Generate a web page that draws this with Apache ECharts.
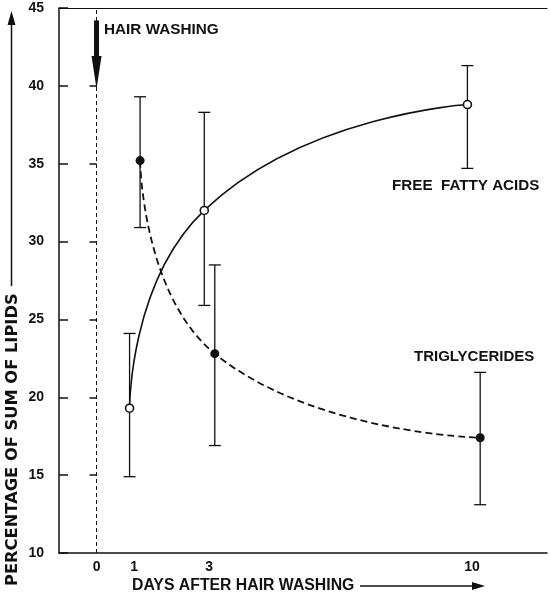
<!DOCTYPE html>
<html>
<head>
<meta charset="utf-8">
<script src="https://cdn.jsdelivr.net/npm/echarts@6/dist/echarts.min.js"></script>
<style>
html,body{margin:0;padding:0;background:#fff;}
#chart{width:550px;height:599px;}
</style>
</head>
<body>
<div id="chart"></div>
<script>
// ---- data ----
const xTickLabels = [0, 1, 3, 10];
const ffaDays = [0.88, 2.87, 9.88];
const ffaMean = [19.3, 32.0, 38.8];
const ffaLow  = [14.9, 25.9, 34.7];
const ffaHigh = [24.1, 38.3, 41.3];
const tgDays = [1.16, 3.15, 10.22];
const tgMean = [35.2, 22.8, 17.4];
const tgLow  = [30.9, 16.9, 13.1];
const tgHigh = [39.3, 28.5, 21.6];
const washDay = 0;
const washArrow = [44.2, 39.8];
const rightTicks = [15, 20, 25, 30, 35, 40];

const FONT = 'Liberation Sans';
const ink = '#111';

const ffaData = ffaDays.map((d, i) => [d, ffaMean[i]]);
const tgData = tgDays.map((d, i) => [d, tgMean[i]]);
const errData = ffaDays.map((d, i) => [d, ffaLow[i], ffaHigh[i]])
  .concat(tgDays.map((d, i) => [d, tgLow[i], tgHigh[i]]));

const chart = echarts.init(document.getElementById('chart'), null, {renderer: 'canvas'});

function errRender(params, api) {
  const x = api.value(0), lo = api.value(1), hi = api.value(2);
  const t = api.coord([x, hi]), b = api.coord([x, lo]);
  const hw = 6;
  const st = {stroke: ink, lineWidth: 1.3};
  return {type: 'group', children: [
    {type: 'line', shape: {x1: t[0], y1: t[1], x2: b[0], y2: b[1]}, style: st},
    {type: 'line', shape: {x1: t[0] - hw, y1: t[1], x2: t[0] + hw, y2: t[1]}, style: st},
    {type: 'line', shape: {x1: b[0] - hw, y1: b[1], x2: b[0] + hw, y2: b[1]}, style: st}
  ]};
}

function washRender(params, api) {
  const x = api.value(0);
  const p0 = api.coord([x, api.value(1)]);
  const p1 = api.coord([x, api.value(2)]);
  const headLen = 33;
  const mid = p1[1] - headLen;
  return {type: 'group', children: [
    {type: 'rect', shape: {x: p0[0] - 2.5, y: p0[1], width: 5, height: mid - p0[1] + 1}, style: {fill: ink}},
    {type: 'polygon', shape: {points: [[p1[0] - 5, mid], [p1[0] + 5, mid], [p1[0], p1[1]]]}, style: {fill: ink}}
  ]};
}

const option = {
  backgroundColor: '#fff',
  animation: false,
  grid: {left: 59, right: 0, top: 8, bottom: 46, containLabel: false},
  xAxis: [{
    type: 'value', min: -1, max: 12, interval: 1, position: 'bottom',
    axisLine: {show: true, onZero: false, lineStyle: {color: ink, width: 1.5}},
    axisTick: {show: false},
    splitLine: {show: false},
    axisLabel: {
      margin: 7, color: ink, fontFamily: FONT, fontWeight: 'bold', fontSize: 14,
      formatter: v => xTickLabels.indexOf(v) >= 0 ? String(v) : ''
    }
  }, {
    type: 'value', min: -1, max: 12, position: 'top',
    axisLine: {show: true, onZero: false, lineStyle: {color: ink, width: 1}},
    axisTick: {show: false}, axisLabel: {show: false}, splitLine: {show: false}
  }],
  yAxis: [{
    type: 'value', min: 10, max: 45, interval: 5, position: 'left',
    axisLine: {show: true, onZero: false, lineStyle: {color: ink, width: 1.5}},
    axisTick: {show: true, inside: true, length: 9, lineStyle: {color: ink, width: 1.5}},
    splitLine: {show: false},
    axisLabel: {margin: 15, color: ink, fontFamily: FONT, fontWeight: 'bold', fontSize: 14}
  }, {
    type: 'value', min: 10, max: 45, interval: 5, position: 'right',
    axisLine: {show: false},
    axisTick: {show: true, inside: true, length: 7, customValues: rightTicks, lineStyle: {color: ink, width: 1.5}},
    axisLabel: {show: false}, splitLine: {show: false}
  }],
  series: [
    {
      type: 'custom', name: 'err', renderItem: errRender, data: errData,
      encode: {x: 0, y: [1, 2]}, z: 2, silent: true
    },
    {
      type: 'custom', name: 'wash', renderItem: washRender, data: [[washDay, washArrow[0], washArrow[1]]],
      encode: {x: 0, y: [1, 2]}, z: 3, silent: true
    },
    {
      type: 'line', name: 'FREE FATTY ACIDS', data: ffaData, smooth: 0.55,
      symbol: 'circle', symbolSize: 8,
      itemStyle: {color: '#fff', borderColor: ink, borderWidth: 1.6},
      lineStyle: {color: ink, width: 1.6}, z: 4,
      markLine: {
        silent: true, symbol: ['none', 'none'], label: {show: false},
        lineStyle: {color: ink, width: 1, type: [4, 3]},
        data: [{xAxis: washDay}]
      }
    },
    {
      type: 'line', name: 'TRIGLYCERIDES', data: tgData, smooth: 0.5,
      symbol: 'circle', symbolSize: 9,
      itemStyle: {color: ink, borderColor: ink, borderWidth: 0},
      lineStyle: {color: ink, width: 1.8, type: [7, 4]}, z: 4
    }
  ],
  graphic: [
    {type: 'text', x: 104, y: 30, style: {text: 'HAIR WASHING', font: 'bold 15.3px "Liberation Sans"', fill: ink, verticalAlign: 'middle'}},
    {type: 'text', x: 392, y: 186, style: {text: 'FREE  FATTY ACIDS', font: 'bold 15.2px "Liberation Sans"', fill: ink, verticalAlign: 'middle'}},
    {type: 'text', x: 414, y: 357, style: {text: 'TRIGLYCERIDES', font: 'bold 15px "Liberation Sans"', fill: ink, verticalAlign: 'middle'}},
    {type: 'text', x: 132, y: 586, style: {text: 'DAYS AFTER HAIR WASHING', font: 'bold 15.8px "Liberation Sans"', fill: ink, verticalAlign: 'middle'}},
    {type: 'line', shape: {x1: 360, y1: 586, x2: 476, y2: 586}, style: {stroke: ink, lineWidth: 1.5}},
    {type: 'polygon', shape: {points: [[472, 582], [485, 586], [472, 590]]}, style: {fill: ink}},
    {type: 'text', x: 12.5, y: 586, rotation: Math.PI / 2,
      style: {text: 'PERCENTAGE OF SUM OF LIPIDS', font: 'bold 16.3px "DejaVu Sans"', fill: ink, align: 'left', verticalAlign: 'middle'}},
    {type: 'line', shape: {x1: 11.5, y1: 286, x2: 11.5, y2: 20}, style: {stroke: ink, lineWidth: 1.5}},
    {type: 'polygon', shape: {points: [[7.5, 25], [11.5, 11], [15.5, 25]]}, style: {fill: ink}}
  ]
};
chart.setOption(option);
</script>
</body>
</html>
